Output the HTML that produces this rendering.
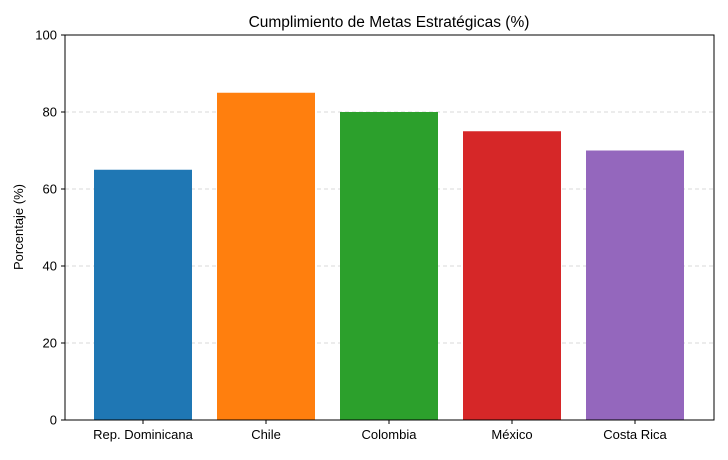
<!DOCTYPE html>
<html><head><meta charset="utf-8"><style>
html,body{margin:0;padding:0;background:#fff;}
</style></head><body>
<svg width="728" height="455" xmlns="http://www.w3.org/2000/svg" font-family="'Liberation Sans', 'DejaVu Sans', sans-serif">
<rect width="728" height="455" fill="#fff"/>
<g stroke="#cccccc" stroke-width="0.8" stroke-dasharray="4,3">
<line x1="65" x2="714" y1="343" y2="343"/>
<line x1="65" x2="714" y1="266" y2="266"/>
<line x1="65" x2="714" y1="189" y2="189"/>
<line x1="65" x2="714" y1="112" y2="112"/>
</g>
<rect x="94" y="169.75" width="98" height="250.25" fill="#1f77b4"/>
<rect x="217" y="92.75" width="98" height="327.25" fill="#ff7f0e"/>
<rect x="340" y="112" width="98" height="308" fill="#2ca02c"/>
<rect x="463" y="131.25" width="98" height="288.75" fill="#d62728"/>
<rect x="586" y="150.5" width="98" height="269.5" fill="#9467bd"/>
<rect x="65" y="35" width="649" height="385" fill="none" stroke="#000" stroke-width="1"/>
<g stroke="#000" stroke-width="1">
<line x1="61" x2="65" y1="420" y2="420"/>
<line x1="61" x2="65" y1="343" y2="343"/>
<line x1="61" x2="65" y1="266" y2="266"/>
<line x1="61" x2="65" y1="189" y2="189"/>
<line x1="61" x2="65" y1="112" y2="112"/>
<line x1="61" x2="65" y1="35" y2="35"/>
<line x1="143" x2="143" y1="420" y2="424"/>
<line x1="266" x2="266" y1="420" y2="424"/>
<line x1="389" x2="389" y1="420" y2="424"/>
<line x1="512" x2="512" y1="420" y2="424"/>
<line x1="635" x2="635" y1="420" y2="424"/>
</g>
<g font-size="13" fill="#000" text-anchor="end">
<text x="57" y="424.5">0</text>
<text x="57" y="347.5">20</text>
<text x="57" y="270.5">40</text>
<text x="57" y="193.5">60</text>
<text x="57" y="116.5">80</text>
<text x="57" y="39.5">100</text>
</g>
<g font-size="13" fill="#000" text-anchor="middle">
<text x="143" y="439">Rep. Dominicana</text>
<text x="266" y="439">Chile</text>
<text x="389" y="439">Colombia</text>
<text x="512" y="439">México</text>
<text x="635" y="439">Costa Rica</text>
</g>
<text x="23" y="227" font-size="13" text-anchor="middle" transform="rotate(-90 23 227)">Porcentaje (%)</text>
<text x="389" y="27" font-size="15.5" text-anchor="middle">Cumplimiento de Metas Estratégicas (%)</text>
</svg>
</body></html>
